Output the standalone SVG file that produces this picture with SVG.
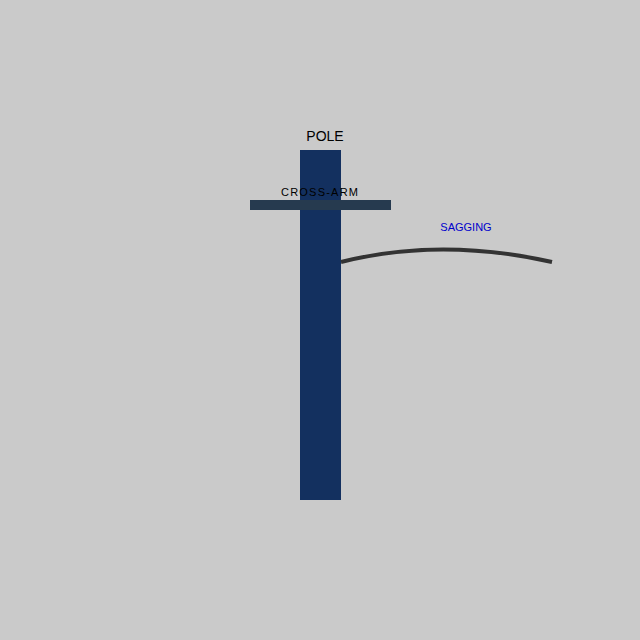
<svg xmlns="http://www.w3.org/2000/svg" width="640" height="640" viewBox="0 0 640 640">
<style>
text{font-family:"Liberation Sans",Arial,sans-serif;text-anchor:middle}
.lbl{font-size:11px;fill:#000}
</style>
<rect width="640" height="640" fill="#cacaca"/>
<g id="pole">
<rect x="300" y="150" width="41" height="350" fill="#13305f"/>
<text x="325" y="141" font-size="14" fill="#000">POLE</text>
</g>
<g id="cross-arm">
<rect x="250" y="200" width="141" height="10" fill="#263a4f"/>
<text class="lbl" x="319.5" y="196" textLength="77" lengthAdjust="spacing">CROSS-ARM</text>
</g>
<g id="connectors">
<path d="M341 262 Q440 237 552 262" fill="none" stroke="#333" stroke-width="4"/>
</g>
<g id="sagging">
<text x="466" y="231" font-size="11" fill="#0000cc">SAGGING</text>
</g>
</svg>
